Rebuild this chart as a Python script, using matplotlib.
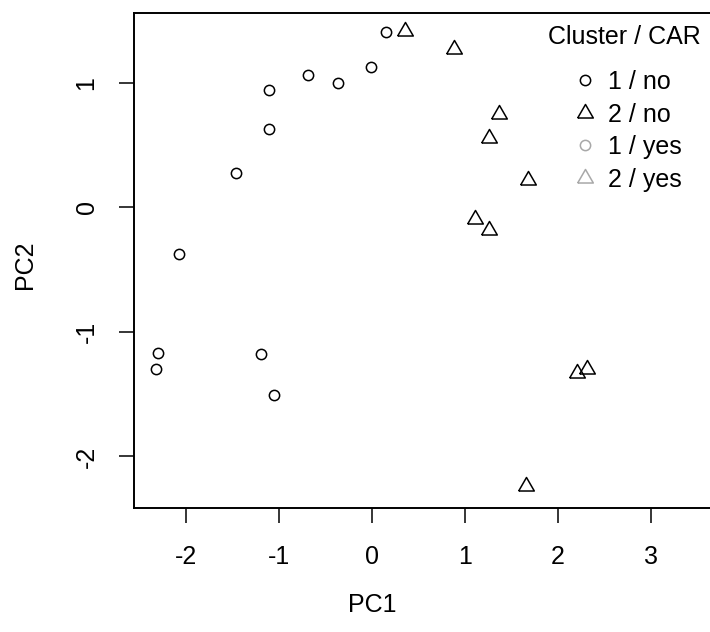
import matplotlib
matplotlib.use("Agg")
import matplotlib.pyplot as plt
from matplotlib.lines import Line2D

plt.rcParams['font.family'] = ['Liberation Sans', 'DejaVu Sans']
plt.rcParams['axes.unicode_minus'] = False

# cluster 1 (circles), CAR = no
c1_pc1 = [0.15, -0.01, -0.37, -0.69, -1.11, -1.11, -1.47, -2.08, -2.31, -2.33, -1.20, -1.06]
c1_pc2 = [1.41, 1.13, 1.00, 1.06, 0.94, 0.63, 0.28, -0.37, -1.17, -1.30, -1.18, -1.51]

# cluster 2 (triangles), CAR = no
c2_pc1 = [0.35, 0.88, 1.37, 1.26, 1.68, 1.11, 1.26, 2.21, 2.32, 1.66]
c2_pc2 = [1.42, 1.27, 0.75, 0.56, 0.22, -0.09, -0.18, -1.33, -1.30, -2.24]

legend_labels = ['1 / no', '2 / no', '1 / yes', '2 / yes']
x_ticks = [-2, -1, 0, 1, 2, 3]
y_ticks = [-2, -1, 0, 1]

gray = '#a8a8a8'
tri = [(-1, -0.577), (1, -0.577), (0, 1.155), (-1, -0.577)]
W, H = 710, 632

fig = plt.figure(figsize=(7.10, 6.32), dpi=100)
ax = fig.add_axes([134 / W, 1 - 508 / H, 589 / W, 495 / H])

ax.plot(c1_pc1, c1_pc2, ls='none', marker='o', ms=7.4, mfc='none',
        mec='black', mew=1.1)
ax.plot(c2_pc1, c2_pc2, ls='none', marker=tri, ms=13, mfc='none',
        mec='black', mew=1.1)

ax.set_xlim(-2.565, 3.78)
ax.set_ylim(-2.414, 1.562)
ax.set_xticks(x_ticks)
ax.set_yticks(y_ticks)
ax.set_yticklabels([str(v) for v in y_ticks], rotation=90, va='center')
ax.tick_params(direction='out', length=11, width=1.1, labelsize=18)
ax.tick_params(axis='x', pad=15.5)
ax.tick_params(axis='y', pad=14.5)
for sp in ax.spines.values():
    sp.set_linewidth(1.4)

ax.set_xlabel('PC1', fontsize=18, va='center')
ax.set_ylabel('PC2', fontsize=18, va='center')
ax.xaxis.set_label_coords((372 - 134) / 589, (27 - 124) / 495)
ax.yaxis.set_label_coords((25 - 134) / 589, (632 - 265 - 124) / 495)

# legend (title drawn separately so it sits higher above the entries)
fig.text(548 / W, 1 - 37 / H, 'Cluster / CAR', fontsize=18, ha='left', va='center')
handles = [
    Line2D([], [], ls='none', marker='o', ms=7.4, mfc='none', mec='black', mew=1.1),
    Line2D([], [], ls='none', marker=tri, ms=13, mfc='none', mec='black', mew=1.1),
    Line2D([], [], ls='none', marker='o', ms=7.4, mfc='none', mec=gray, mew=1.1),
    Line2D([], [], ls='none', marker=tri, ms=13, mfc='none', mec=gray, mew=1.1),
]
fig.legend(handles, legend_labels, loc='upper left',
           bbox_to_anchor=(575 / W, 1 - 70 / H), frameon=False, fontsize=18,
           handlelength=0.8, handletextpad=0.52, labelspacing=0.34,
           borderpad=0, borderaxespad=0)

fig.savefig('out.png', dpi=100)
